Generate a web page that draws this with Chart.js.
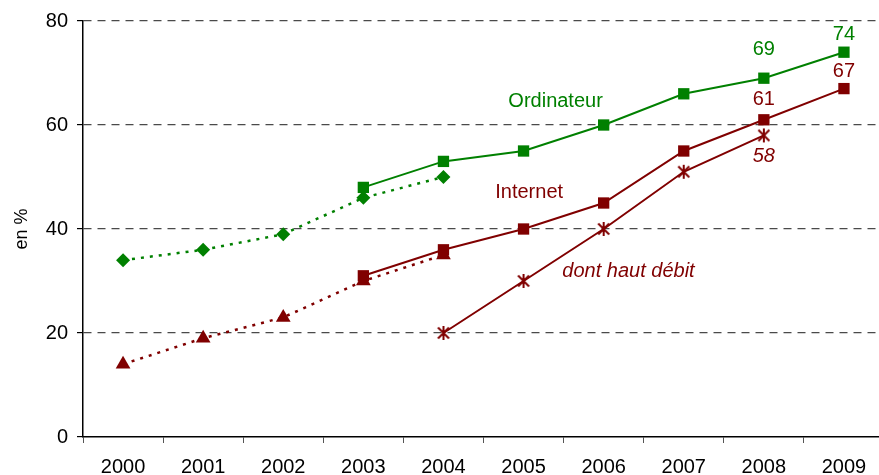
<!DOCTYPE html>
<html lang="fr">
<head>
<meta charset="utf-8">
<title>Ordinateur et Internet</title>
<script src="https://cdn.jsdelivr.net/npm/chart.js@4/dist/chart.umd.min.js"></script>
<style>
  html, body { margin: 0; padding: 0; background: #fff; overflow: hidden; }
  #wrap { width: 894px; height: 475px; }
</style>
</head>
<body>
<div id="wrap"><canvas id="chart" width="894" height="475"></canvas></div>
<script>
// Data
const years = ['2000', '2001', '2002', '2003', '2004', '2005', '2006', '2007', '2008', '2009'];
const ordinateurAncien = [34, 36, 39, 46, 50, null, null, null, null, null];
const ordinateur = [null, null, null, 48, 53, 55, 60, 66, 69, 74];
const internetAncien = [14, 19, 23, 30, 35, null, null, null, null, null];
const internet = [null, null, null, 31, 36, 40, 45, 55, 61, 67];
const hautDebit = [null, null, null, null, 20, 30, 40, 51, 58, null];
const yTicks = [0, 20, 40, 60, 80];

const GREEN = '#008000';
const RED = '#800000';
const FONT = '"Liberation Sans", Arial, sans-serif';

// asterisk marker (X with a vertical bar)
function makeStar(color) {
    const c = document.createElement('canvas');
    c.width = 16; c.height = 16;
    const g = c.getContext('2d');
    g.strokeStyle = color;
    g.lineWidth = 2;
    g.beginPath();
    g.moveTo(2.5, 2.5); g.lineTo(13.5, 13.5);
    g.moveTo(13.5, 2.5); g.lineTo(2.5, 13.5);
    g.moveTo(8, 1); g.lineTo(8, 15);
    g.stroke();
    return c;
}
const starMarker = makeStar(RED);

// value labels next to some points
const pointLabels = [
    { data: ordinateur, index: 8, color: GREEN, dy: -29 },
    { data: ordinateur, index: 9, color: GREEN, dy: -18 },
    { data: internet, index: 8, color: RED, dy: -20 },
    { data: internet, index: 9, color: RED, dy: -17 },
    { data: hautDebit, index: 8, color: RED, dy: 21, italic: true }
];

// series names written inside the plot (x = category index, y = value)
const seriesNames = [
    { text: 'Ordinateur', x: 5.4, y: 64.6, color: GREEN },
    { text: 'Internet', x: 5.07, y: 47.0, color: RED },
    { text: 'dont haut débit', x: 6.31, y: 31.8, color: RED, italic: true }
];

const textPlugin = {
    id: 'textPlugin',
    afterDatasetsDraw(chart) {
        const ctx = chart.ctx;
        const xs = chart.scales.x;
        const ys = chart.scales.y;
        ctx.save();
        ctx.textAlign = 'center';
        ctx.textBaseline = 'middle';
        pointLabels.forEach(l => {
            const v = l.data[l.index];
            ctx.font = (l.italic ? 'italic ' : '') + '20px ' + FONT;
            ctx.fillStyle = l.color;
            ctx.fillText(String(v), xs.getPixelForValue(l.index), ys.getPixelForValue(v) + l.dy);
        });
        seriesNames.forEach(n => {
            ctx.font = (n.italic ? 'italic ' : '') + '20px ' + FONT;
            ctx.fillStyle = n.color;
            ctx.fillText(n.text, xs.getPixelForValue(n.x), ys.getPixelForValue(n.y));
        });
        ctx.restore();
    }
};

const ctx = document.getElementById('chart').getContext('2d');
new Chart(ctx, {
    type: 'line',
    data: {
        labels: years,
        datasets: [
            {
                label: 'Ordinateur (ancienne série)',
                data: ordinateurAncien,
                borderColor: GREEN,
                backgroundColor: GREEN,
                borderWidth: 2.5,
                borderDash: [3, 6],
                pointStyle: 'rectRot',
                pointRadius: 7,
                pointBorderWidth: 0,
                pointBackgroundColor: GREEN
            },
            {
                label: 'Ordinateur',
                data: ordinateur,
                borderColor: GREEN,
                backgroundColor: GREEN,
                borderWidth: 2,
                pointStyle: 'rect',
                pointRadius: 8,
                pointBorderWidth: 0,
                pointBackgroundColor: GREEN
            },
            {
                label: 'Internet (ancienne série)',
                data: internetAncien,
                borderColor: RED,
                backgroundColor: RED,
                borderWidth: 2.5,
                borderDash: [3, 6],
                pointStyle: 'triangle',
                pointRadius: 8.5,
                pointBorderWidth: 0,
                pointBackgroundColor: RED
            },
            {
                label: 'Internet',
                data: internet,
                borderColor: RED,
                backgroundColor: RED,
                borderWidth: 2,
                pointStyle: 'rect',
                pointRadius: 8,
                pointBorderWidth: 0,
                pointBackgroundColor: RED
            },
            {
                label: 'dont haut débit',
                data: hautDebit,
                borderColor: RED,
                backgroundColor: RED,
                borderWidth: 2,
                pointStyle: starMarker,
                pointRadius: 8
            }
        ]
    },
    options: {
        responsive: false,
        animation: false,
        devicePixelRatio: 1,
        spanGaps: false,
        layout: { padding: { top: 21, right: 0, left: 0, bottom: 0 } },
        plugins: {
            legend: { display: false },
            tooltip: { enabled: false }
        },
        scales: {
            x: {
                offset: true,
                grid: {
                    offset: true,
                    drawOnChartArea: false,
                    drawTicks: true,
                    tickLength: 6,
                    tickColor: '#555'
                },
                border: { color: '#000', width: 1.5 },
                ticks: {
                    color: '#000',
                    font: { family: FONT, size: 20 },
                    padding: 12,
                    maxRotation: 0,
                    autoSkip: false
                },
                afterFit(scale) { scale.height = 38; }
            },
            y: {
                min: 0,
                max: 80,
                afterBuildTicks(scale) {
                    scale.ticks = yTicks.map(v => ({ value: v }));
                },
                grid: {
                    color: ctx => (ctx.tick && ctx.tick.value === 0) ? 'rgba(0,0,0,0)' : '#4a4a4a',
                    lineWidth: 1.2,
                    tickLength: 6,
                    tickColor: '#000',
                    tickBorderDash: []
                },
                border: { color: '#000', width: 1.5, dash: [8, 6] },
                ticks: {
                    color: '#000',
                    font: { family: FONT, size: 20 },
                    padding: 9
                },
                title: {
                    display: true,
                    text: 'en %',
                    color: '#000',
                    font: { family: FONT, size: 18 },
                    padding: { top: 11, bottom: 0 }
                },
                afterFit(scale) { scale.width = 83; }
            }
        }
    },
    plugins: [textPlugin]
});
</script>
</body>
</html>
